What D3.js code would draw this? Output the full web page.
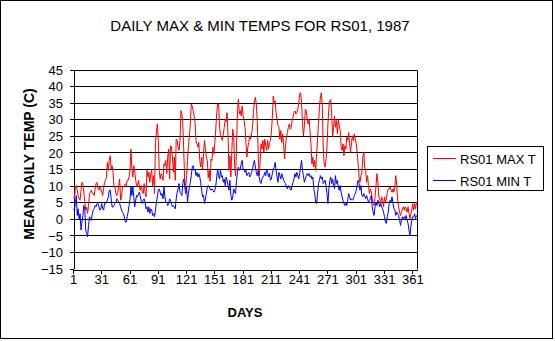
<!DOCTYPE html>
<html>
<head>
<meta charset="utf-8">
<script src="https://cdn.jsdelivr.net/npm/d3@7/dist/d3.min.js"></script>
<style>
html,body{margin:0;padding:0;background:#fff;}
svg{display:block;font-family:"Liberation Sans",Arial,sans-serif;}
</style>
</head>
<body>
<svg id="chart" width="555" height="341"></svg>
<script>
const chartTitle = "DAILY MAX & MIN TEMPS FOR RS01, 1987";
const xTitle = "DAYS";
const yTitle = "MEAN DAILY TEMP (C)";
const seriesNames = ["RS01 MAX T", "RS01 MIN T"];
const xTickLabels = [1, 31, 61, 91, 121, 151, 181, 211, 241, 271, 301, 331, 361];
const yTickLabels = [-15, -10, -5, 0, 5, 10, 15, 20, 25, 30, 35, 40, 45];

const maxT = [
6.5,6,9.6,10,8.6,7,6,5.6,8.6,11,
10.5,8,5,2.6,3.5,1.6,4,7.6,8,8.6,
7.6,7.6,7,9,10.6,11,9,8.6,9.6,9,
8,7,9.2,11,11.6,12.6,17,14.6,17.6,19,
15,16,14,9.6,9.6,7.6,7,8,10,12,
5.6,6.6,9.6,9.6,10,10.5,10,11.6,11.6,12.6,
14.6,21,15,12.6,16,14,11.6,10,10,11.6,
9.6,8.6,10,8,7.6,10.6,8,6.6,14.6,12.6,
14,11,13.6,14.6,10,13,7.6,23,26,28.6,
23.6,14.6,12,13.6,13,11.6,16.6,16,17.6,13.6,
18.6,21,12,22,21.6,18.6,14,18.6,11.6,24,
23.6,21.6,20.6,23.6,32.6,31.6,28.6,20.6,11.6,9,
13,17.6,22,25,28.6,34.6,34,32.6,31,29,
23.6,22.6,21.6,23,17.6,15.6,18.6,15,19.6,23.6,
21,18.6,17.6,12.3,14.6,11.3,18,17.6,21.6,19.6,
23,27,32,34.6,34.8,28,25,24.6,23.6,25.5,
27.6,30,29.3,32,25,14.6,19,12.6,20,27,
25,16,13,21.6,32.6,36,31.6,32.6,31,34,
31,29.6,27.6,23,18.6,21.6,23,25,24,25.6,
27.6,32,35.6,36.6,34.6,29.6,19.6,13,17,22.6,
21,23.6,20,24,22,20.6,23.6,21,23,23.6,
26,30.6,37,35,35.6,32,30,28,27.6,24,
26.6,23,25.6,22,18,22,24.6,26,27.6,28.6,
27,27.5,29.6,30.6,32,32.5,31.6,32,33,35,
37.6,38,35,29,25,28,33,32.6,30,28.6,
30,26.6,22.6,16.5,18.6,15.6,17.6,14.6,19.6,24,
29,33.6,36.6,38,34,21.6,16.6,15.6,18,21.6,
28.6,33.6,35.6,36,31.6,24.6,27.6,31,27.6,29.6,
25.6,30,28,26.6,21.6,20.6,22.6,19,22,21,
24.6,23.6,26,22.6,20,23,25,23.6,25.6,24,
22.6,20,16.6,12.6,11,13,14,18.6,20,15.6,
14.6,11,13,10,7.6,9,8,6,4.6,4,
6.6,10,13.6,11,6.6,6,4.6,6.6,5.6,3.6,
6.6,5,6,8,9,9,9.6,8.6,8,9,
8,10,13,10,5.6,3.6,2,1,2,3,
3.6,2.6,3.6,3,2,3.6,1.6,0,1.5,2.6,
4.6,2.6,4.6,3,5
];

const minT = [
3,2.6,4.6,7,1,3,-0.4,1.5,-3.4,-1,
1,4,3,-3.4,-4.4,-5.4,-2,0.6,0,-0.5,
1.5,2.6,3,4,3.6,4.6,4.6,3.6,2.6,3,
4.6,3,2.6,4.6,4.6,5,5.6,6.6,8.6,8.6,
6,3.6,3.5,4,4.6,5,6,5.6,5,4.6,
3.6,2.6,2,1.6,0.6,-1,-1,0.6,2,4,
6,9.6,7,9.6,6.6,3.6,5.6,7,6.6,7.6,
8,6.6,5,4.6,5.6,6,5,3,3.6,2,
3.6,1.6,3,2.6,1,1.5,0.6,2.6,5,6.6,
8.6,9,8,7,7.6,6,9.6,6.6,5,5,
4,4.6,6,5.6,4.4,3.6,4,3.6,3,6,
8,9,10.6,8,7.6,7,10.6,12,10,7.6,
9.6,5,7.6,9.6,11,13,15.6,16,14.6,15,
13,14,12.6,13.6,12.6,11,8.6,6.6,7,4.6,
6,7.6,9.6,10,9.6,9,8.6,9,8.6,8,
8.6,10,12.6,15,13,12,14.6,12.6,13,11,
12,10,12.6,11.6,10,8.6,11.6,7,5.6,6.6,
9,8,7.6,11.6,14,15.6,14.6,15,16.6,17.6,
15,15,14,14.6,13,13.6,14,12.6,13,14,
15,16.6,17.6,15.6,14,13,14.6,12.6,11,10.6,
12,12.6,13,14,13,15,14,12.6,13.6,11.6,
12,13.6,15,15.5,17,14.6,12.6,11,14,13,
12,13.6,12.6,11.6,11,10.6,9.6,9,10,9.6,
9,8.6,10,11,12,13.6,12.6,14,13,12,
13.6,15.6,17.6,14.6,13,11,12,13,13.6,13,
13.6,12.6,13,12,12.6,9,7.6,5,4.6,7.6,
10.6,11.6,13,12,12.6,10.6,11,11.6,10,7.6,
4.6,9,11.6,12.6,10.6,12,10,9,13,10.6,
11.6,9.6,8.6,10,8,6.6,5.6,4.6,4,5,
4,5.6,7.6,6.6,5.6,6,5.6,6,7,7.6,
8.6,10,11.6,10.6,8.6,10,7,6.6,7.6,7,
6,7,6,5,5.6,6,7,3.6,2,1,
3.6,5,4,5.6,4.6,3.6,4.6,3.6,3,2,
0.6,-1,-1.4,0.6,2,4.6,5.6,5,6.6,4.6,
3,2.6,1,2,1.6,1,-0.4,-2,-0.4,0.6,
0,0.6,0,1,-0.4,-1.4,-3.4,-5,-2.4,-0.4,
0.6,0.6,1.5,0,1
];

const days = maxT.map((_, i) => i + 1);
const seriesColors = ["#ff0000", "#0000ff"];

const svg = d3.select("#chart");
svg.append("rect").attr("width", 555).attr("height", 341).attr("fill", "#fff");
svg.append("rect").attr("x", 0.5).attr("y", 0.5).attr("width", 552).attr("height", 338)
  .attr("fill", "none").attr("stroke", "#000").attr("stroke-width", 1);

const L = 73, R = 417, T = 69.5, B = 268.5;
const x = d3.scaleLinear().domain([1, days.length + 1]).range([L, R]);
const y = d3.scaleLinear().domain([-15, 45]).range([B, T]);

// gridlines
svg.append("g").selectAll("line").data(yTickLabels.filter(v => v > -15))
  .join("line")
  .attr("x1", L).attr("x2", R)
  .attr("y1", d => Math.round(y(d)) + 0.5).attr("y2", d => Math.round(y(d)) + 0.5)
  .attr("stroke", "#000").attr("stroke-width", 1);
// right border
svg.append("line").attr("x1", R + 0.5).attr("x2", R + 0.5).attr("y1", Math.round(T) + 0.5).attr("y2", Math.round(B) + 0.5)
  .attr("stroke", "#000");

// axes
const yAxis = svg.append("g").attr("transform", `translate(${L + 0.5},0)`)
  .call(d3.axisLeft(y).tickValues(yTickLabels).tickSize(4).tickPadding(5).tickSizeOuter(0));
const xAxis = svg.append("g").attr("transform", `translate(0,${Math.round(B) + 0.5})`)
  .call(d3.axisBottom(x).tickValues(xTickLabels).tickSize(4).tickPadding(4).tickSizeOuter(0));
[yAxis, xAxis].forEach(g => {
  g.selectAll("path.domain").attr("stroke", "#000").attr("shape-rendering", "crispEdges");
  g.selectAll(".tick line").attr("stroke", "#000").attr("shape-rendering", "crispEdges");
  g.selectAll(".tick text").attr("fill", "#000").attr("font-size", 13)
    .attr("font-family", '"Liberation Sans",Arial,sans-serif');
});
yAxis.selectAll(".tick text").attr("x", -10.5).attr("dy", "0.36em");
xAxis.selectAll(".tick text").attr("y", 14).attr("dy", 0);

// lines
const series = [maxT, minT];
const line = d3.line().x((d, i) => x(days[i] + 0.5)).y(d => y(d));
svg.append("g").selectAll("path").data(series).join("path")
  .attr("d", d => line(d))
  .attr("fill", "none")
  .attr("stroke", (d, i) => seriesColors[i])
  .attr("stroke-width", 1);

// titles
svg.append("text").attr("x", 260).attr("y", 31).attr("text-anchor", "middle")
  .attr("font-size", 15).text(chartTitle);
svg.append("text").attr("x", 245).attr("y", 317).attr("text-anchor", "middle")
  .attr("font-size", 13).attr("font-weight", "bold").text(xTitle);
svg.append("text").attr("transform", "translate(34,164) rotate(-90)").attr("text-anchor", "middle")
  .attr("font-size", 14).attr("font-weight", "bold").text(yTitle);

// legend
const lg = svg.append("g");
lg.append("rect").attr("x", 427.5).attr("y", 146.5).attr("width", 116).attr("height", 44)
  .attr("fill", "#fff").attr("stroke", "#000");
seriesNames.forEach((name, i) => {
  const yy = 158.5 + i * 22;
  lg.append("line").attr("x1", 433).attr("x2", 456).attr("y1", yy).attr("y2", yy)
    .attr("stroke", seriesColors[i]).attr("stroke-width", 1);
  lg.append("text").attr("x", 460).attr("y", yy + 5).attr("font-size", 13).text(name);
});
</script>
</body>
</html>
